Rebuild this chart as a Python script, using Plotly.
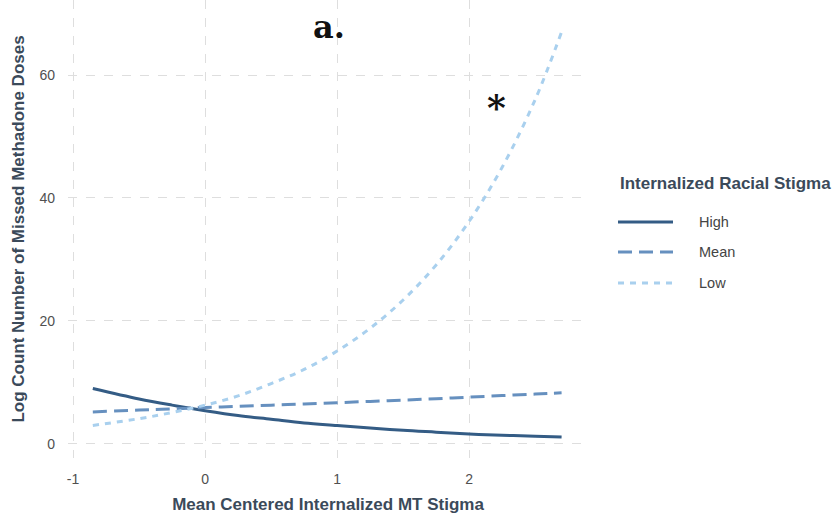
import plotly.graph_objects as go

# Predicted counts across mean-centred internalized MT stigma
x_vals = [-0.85, -0.5, -0.25, 0.0, 0.25, 0.5, 0.75, 1.0, 1.25, 1.5, 1.75, 2.0, 2.25, 2.5, 2.7]
high = [9.0, 7.3, 6.3, 5.4, 4.6, 4.0, 3.4, 3.0, 2.6, 2.2, 1.9, 1.6, 1.4, 1.25, 1.1]
mean = [5.2, 5.5, 5.7, 5.9, 6.1, 6.3, 6.5, 6.7, 6.9, 7.1, 7.35, 7.6, 7.85, 8.1, 8.3]
low = [3.0, 4.1, 5.1, 6.3, 7.8, 9.8, 12.1, 15.1, 18.8, 23.4, 29.1, 36.2, 45.0, 56.0, 67.0]

series_names = ["High", "Mean", "Low"]
series_values = [high, mean, low]
colors = ["#345c85", "#6690bf", "#a9d0ee"]
dashes = ["solid", "14px,7px", "6px,6px"]

x_ticks = [-1, 0, 1, 2]
y_ticks = [0, 20, 40, 60]

fig = go.Figure()
for name, vals, col, dash in zip(series_names, series_values, colors, dashes):
    fig.add_trace(go.Scatter(
        x=x_vals, y=vals, name=name, mode="lines",
        line=dict(color=col, width=3, dash=dash, shape="spline"),
        showlegend=False,
    ))

axis_title_font = dict(family="Liberation Sans, Arial", size=17, color="#3b4a5a")
tick_font = dict(family="Liberation Sans, Arial", size=14, color="#505050")
grid = dict(showgrid=True, gridcolor="#dedede", gridwidth=1, griddash="dash",
            zeroline=False, showline=False, ticks="")

fig.update_xaxes(range=[-1.038, 2.9], tickvals=x_ticks, ticktext=[str(v) for v in x_ticks],
                 tickfont=tick_font, ticklabelstandoff=11,
                 title=dict(text="<b>Mean Centered Internalized MT Stigma</b>",
                            font=axis_title_font, standoff=12), **grid)
fig.update_yaxes(range=[-2.3, 72.2], tickvals=y_ticks, ticktext=[str(v) for v in y_ticks],
                 tickfont=tick_font, ticklabelstandoff=12,
                 title=dict(text="<b>Log Count Number of Missed Methadone Doses</b>",
                            font=axis_title_font, standoff=10), **grid)

# Pixel helpers for the 520x458 plotting panel
def px_x(p):
    return (p - 68) / 520

def px_y(p):
    return 1 - p / 458

# Panel label and significance marker
fig.add_annotation(x=px_x(329), y=px_y(27), xref="paper", yref="paper",
                   text="<b>a.</b>", showarrow=False, xanchor="center", yanchor="middle",
                   font=dict(family="DejaVu Serif", size=32, color="#111111"))
fig.add_annotation(x=px_x(496), y=px_y(107), xref="paper", yref="paper",
                   text="<b>*</b>", showarrow=False, xanchor="center", yanchor="middle",
                   font=dict(family="DejaVu Serif", size=36, color="#111111"))

# Legend drawn in paper coordinates
fig.add_annotation(x=px_x(618), y=px_y(183), xref="paper", yref="paper",
                   text="<b>Internalized Racial Stigma</b>", showarrow=False,
                   xanchor="left", yanchor="middle",
                   font=dict(family="Liberation Sans, Arial", size=17, color="#3b4a5a"))
legend_rows = [222, 252, 283]
for name, col, dash, row in zip(series_names, colors, dashes, legend_rows):
    fig.add_shape(type="line", xref="paper", yref="paper",
                  x0=px_x(618), x1=px_x(673), y0=px_y(row), y1=px_y(row),
                  line=dict(color=col, width=3, dash=dash))
    fig.add_annotation(x=px_x(697), y=px_y(row), xref="paper", yref="paper",
                       text=name, showarrow=False, xanchor="left", yanchor="middle",
                       font=dict(family="Liberation Sans, Arial", size=14.5, color="#444444"))

fig.update_layout(
    width=833, height=523,
    margin=dict(l=68, r=245, t=0, b=65),
    plot_bgcolor="white", paper_bgcolor="white",
)

fig.write_html("out.html")
